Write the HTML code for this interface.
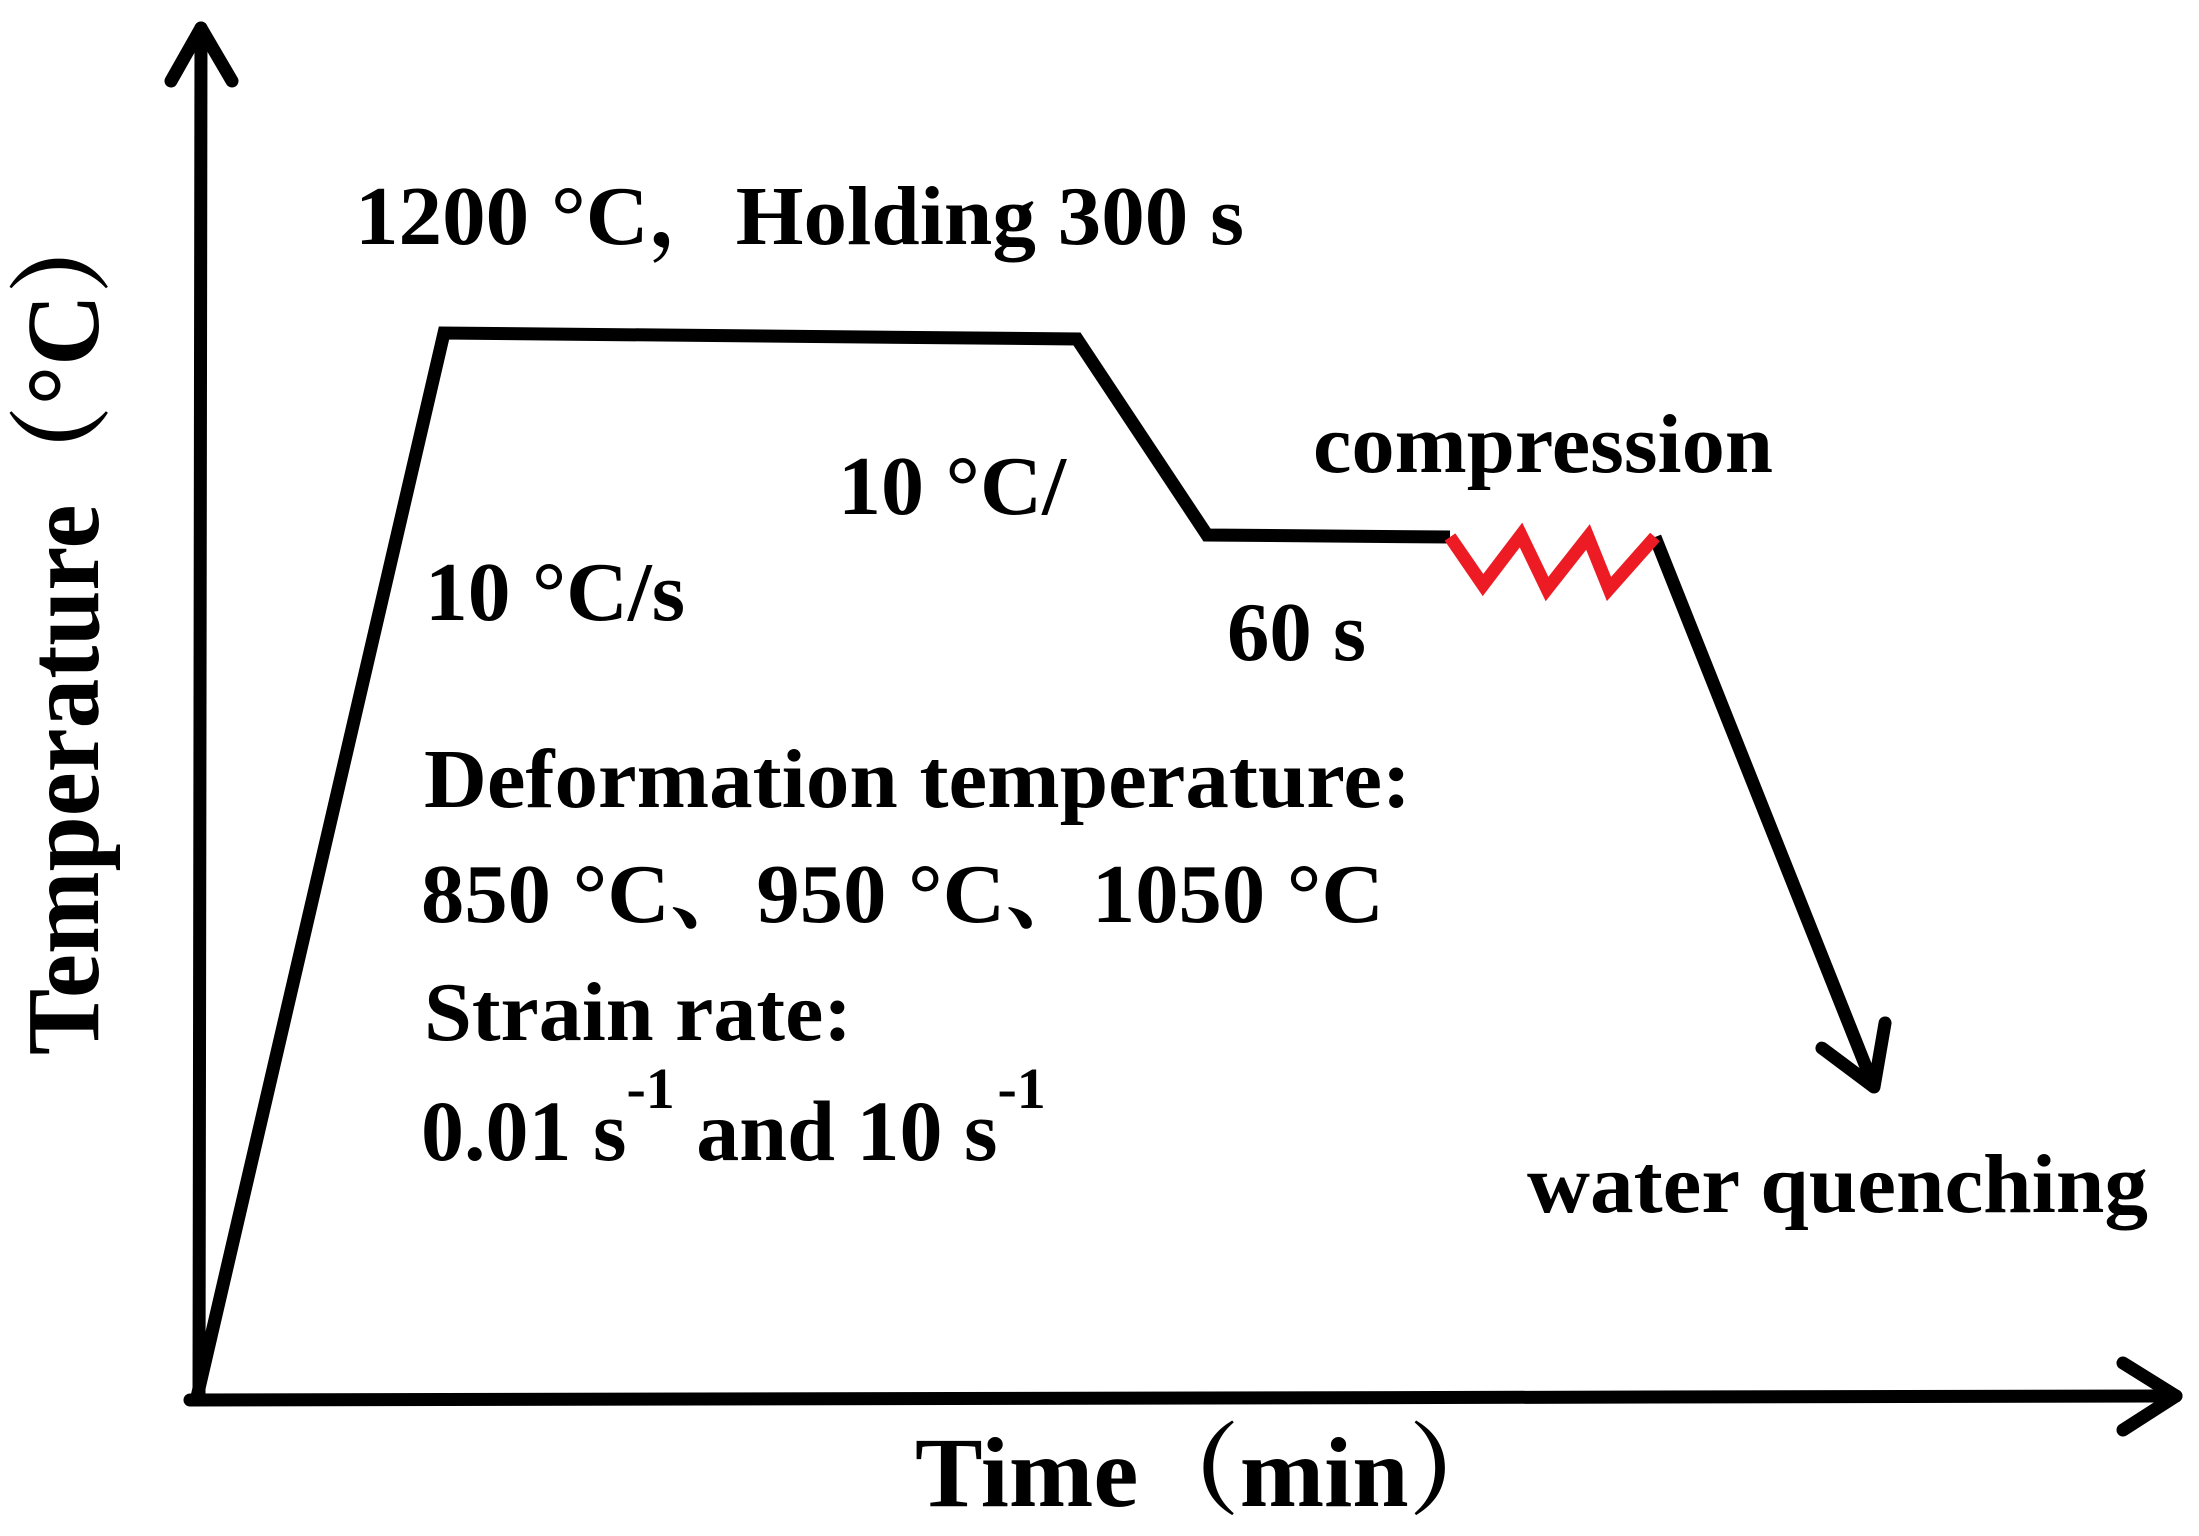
<!DOCTYPE html>
<html><head><meta charset="utf-8"><style>
html,body{margin:0;padding:0;background:#fff}
svg{display:block}
text{font-family:"Liberation Serif","Noto Serif CJK SC",serif;font-weight:bold;fill:#000}
</style></head><body>
<svg id="chart" width="2199" height="1536" viewBox="0 0 2199 1536" xmlns="http://www.w3.org/2000/svg">
<g id="axes" stroke="#000" stroke-width="13" fill="none" stroke-linecap="round" stroke-linejoin="round">
  <line x1="199" y1="1397" x2="201" y2="28"/>
  <polyline points="171,81 201,28 232,81"/>
  <line x1="190" y1="1400" x2="2176" y2="1396"/>
  <polyline points="2123,1363 2176,1396 2123,1430"/>
</g>
<g id="marks"></g>
<text x="355" y="244" font-size="84" textLength="889" lengthAdjust="spacingAndGlyphs">1200 °C，Holding 300 s</text>
<text x="425" y="620" font-size="84" textLength="260" lengthAdjust="spacingAndGlyphs">10 °C/s</text>
<text x="838" y="514" font-size="84" textLength="228" lengthAdjust="spacingAndGlyphs">10 °C/</text>
<text x="1313" y="472" font-size="84" textLength="460" lengthAdjust="spacingAndGlyphs">compression</text>
<text x="1227" y="660" font-size="84" textLength="139" lengthAdjust="spacingAndGlyphs">60 s</text>
<text x="424" y="807" font-size="84" textLength="987" lengthAdjust="spacingAndGlyphs">Deformation temperature:</text>
<text x="421" y="922" font-size="84" textLength="963" lengthAdjust="spacingAndGlyphs">850 °C、950 °C、1050 °C</text>
<text x="424" y="1040" font-size="84" textLength="428" lengthAdjust="spacingAndGlyphs">Strain rate:</text>
<text x="421" y="1160" font-size="86">0.01 s<tspan dy="-52" font-size="58">-1</tspan><tspan dy="52"> and 10 s</tspan><tspan dy="-52" font-size="58">-1</tspan></text>
<text x="1527" y="1212" font-size="84" textLength="621" lengthAdjust="spacingAndGlyphs">water quenching</text>
<text x="915" y="1506" font-size="100" textLength="595" lengthAdjust="spacingAndGlyphs">Time（min）</text>
<text transform="translate(98,1055) rotate(-90)" font-size="104" textLength="860" lengthAdjust="spacingAndGlyphs">Temperature（°C）</text>
</svg>
<script>
// process path: time (px-scaled units) and temperature (px-scaled units) for each segment vertex
const blackTimes = [0, 247, 880, 1010, 1253];
const blackTemps = [0, 1064, 1058, 862, 860];
const zigTimes = [1253, 1286, 1324, 1350, 1391, 1412, 1458];
const zigTemps = [860, 812, 862, 808, 860, 808, 860];
const quenchTimes = [1458, 1677];
const quenchTemps = [860, 310];

const X0 = 197, Y0 = 1397;
function xScale(t){ return X0 + t; }
function yScale(v){ return Y0 - v; }

const NS = "http://www.w3.org/2000/svg";
const g = document.getElementById("marks");
function poly(ts, vs, color, name){
  const p = document.createElementNS(NS, "polyline");
  p.setAttribute("points", ts.map((t,i)=>xScale(t)+","+yScale(vs[i])).join(" "));
  p.setAttribute("fill","none");
  p.setAttribute("stroke",color);
  p.setAttribute("stroke-width","13");
  p.setAttribute("stroke-linejoin","miter");
  p.setAttribute("stroke-linecap","butt");
  
  
  g.appendChild(p);
  return p;
}
poly(blackTimes, blackTemps, "#000", "heating-holding-cooling-line");
poly(quenchTimes, quenchTemps, "#000", "quenching-line");
poly(zigTimes, zigTemps, "#ed1c24", "compression-zigzag");
// arrowhead at end of quench line
const ex = xScale(quenchTimes[1]), ey = yScale(quenchTemps[1]);
const sx = xScale(quenchTimes[0]), sy = yScale(quenchTemps[0]);
const ang = Math.atan2(ey-sy, ex-sx);
const L = 65, spread = 0.55;
const ah = document.createElementNS(NS, "polyline");
ah.setAttribute("points",
  (ex - L*Math.cos(ang-spread))+","+(ey - L*Math.sin(ang-spread))+" "+ex+","+ey+" "+
  (ex - L*Math.cos(ang+spread))+","+(ey - L*Math.sin(ang+spread)));
ah.setAttribute("fill","none");
ah.setAttribute("stroke","#000");
ah.setAttribute("stroke-width","13");
ah.setAttribute("stroke-linecap","round");
ah.setAttribute("stroke-linejoin","round");


g.appendChild(ah);
</script>
</body></html>
